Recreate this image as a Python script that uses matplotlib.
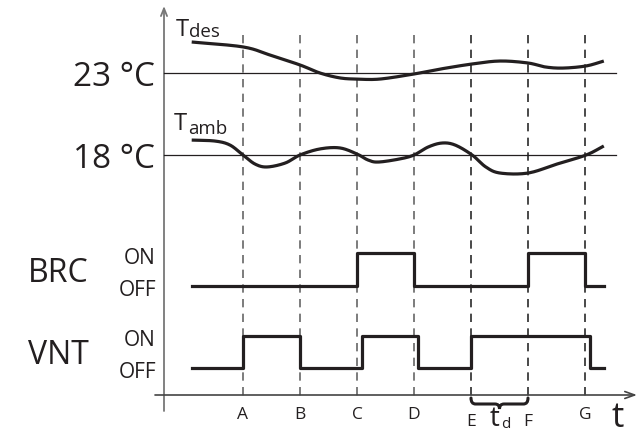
import numpy as np
import matplotlib
matplotlib.use("Agg")
import matplotlib.pyplot as plt
from matplotlib.path import Path
from matplotlib.patches import PathPatch

plt.rcParams['font.family'] = ['Open Sans', 'DejaVu Sans']

# ---------------- data ----------------
events = ['A', 'B', 'C', 'D', 'E', 'F', 'G']
event_t = [1, 2, 3, 4, 5, 6, 7]

ref_temps = [23, 18]
ref_labels = ['23 °C', '18 °C']

tdes_t = [0.10, 1.00, 1.47, 2.00, 2.35, 2.70, 3.00, 3.40, 4.00, 4.46, 5.02,
          5.51, 6.00, 6.30, 6.61, 7.02, 7.33]
tdes_v = [24.89, 24.59, 24.10, 23.49, 23.00, 22.70, 22.63, 22.63, 22.94, 23.24,
          23.55, 23.73, 23.61, 23.37, 23.30, 23.43, 23.73]

tamb_t = [0.10, 0.51, 0.77, 1.00, 1.21, 1.42, 1.74, 2.00, 2.35, 2.70, 3.00,
          3.19, 3.37, 3.75, 4.00, 4.25, 4.49, 4.72, 5.02, 5.26, 5.51, 6.00,
          6.51, 7.02, 7.33]
tamb_v = [18.91, 18.85, 18.61, 18.00, 17.45, 17.27, 17.51, 18.00, 18.37, 18.43,
          18.06, 17.70, 17.57, 17.76, 18.00, 18.49, 18.73, 18.61, 18.00, 17.27,
          16.90, 16.90, 17.45, 18.00, 18.55]

brc_t = [0.10, 3.00, 4.00, 6.00, 7.00, 7.33]
brc_s = [0, 1, 0, 1, 0, 0]
vnt_t = [0.10, 1.00, 2.00, 3.09, 4.07, 5.00, 7.09, 7.33]
vnt_s = [0, 1, 0, 1, 0, 1, 0, 0]
state_labels = ['OFF', 'ON']

# ---------------- layout helpers (pixels) ----------------
W, H = 642, 434
X0, DX = 186.0, 57.0            # pixel x of t=0, pixels per time unit


def tx(px):
    return (px - X0) / DX


XLIM = (tx(0), tx(W))
INK = '#231f20'

fig = plt.figure(figsize=(W / 100, H / 100), dpi=100)


def full_axes():
    a = fig.add_axes([0, 0, 1, 1])
    a.set_axis_off()
    a.patch.set_alpha(0)
    a.set_xlim(*XLIM)
    return a


# overlay: x in time, y in pixels (for layout items)
axL = full_axes()
axL.set_ylim(H, 0)

# temperature axes: 23 at y=73 px, 18 at y=155 px
y23, y18 = 73.0, 155.0
kT = (y18 - y23) / (23 - 18)
axT = full_axes()
axT.set_ylim(23 - (H - y23) / kT, 23 + y23 / kT)


# signal axes
def sig_axes(y_off, y_on):
    a = full_axes()
    k = y_off - y_on
    a.set_ylim((y_off - H) / k, y_off / k)
    return a


axB = sig_axes(286, 253)
axV = sig_axes(368, 336)


def smooth(x, y, n=20):
    P = np.column_stack([x, y]).astype(float)
    P = np.vstack([2 * P[0] - P[1], P, 2 * P[-1] - P[-2]])
    out = []
    for i in range(1, len(P) - 2):
        p0, p1, p2, p3 = P[i - 1], P[i], P[i + 1], P[i + 2]
        for s in np.linspace(0, 1, n, endpoint=False):
            out.append(0.5 * (2 * p1 + (-p0 + p2) * s
                              + (2 * p0 - 5 * p1 + 4 * p2 - p3) * s ** 2
                              + (-p0 + 3 * p1 - 3 * p2 + p3) * s ** 3))
    out.append(P[-2])
    out = np.array(out)
    return out[:, 0], out[:, 1]


# dashed event lines
dash_cols = ['#666666'] * 4 + ['#2a2a2a'] * 3
for t, c in zip(event_t, dash_cols):
    axL.plot([t, t], [35, 401], color=c, lw=1.2, dashes=(5, 3.8))

# reference lines
for T in ref_temps:
    axT.plot([tx(164), tx(616)], [T, T], color=INK, lw=0.9)

# temperature curves
sx, sy = smooth(tdes_t, tdes_v)
axT.plot(sx, sy, color=INK, lw=2.3, solid_capstyle='butt')
sx, sy = smooth(tamb_t, tamb_v)
axT.plot(sx, sy, color=INK, lw=2.3, solid_capstyle='butt')

# signals
axB.step(brc_t, brc_s, where='post', color=INK, lw=2.3)
axV.step(vnt_t, vnt_s, where='post', color=INK, lw=2.3)

# axes arrows
axL.annotate('', xy=(tx(164), 6), xytext=(tx(164), 411),
             arrowprops=dict(arrowstyle='->,head_length=0.55,head_width=0.22',
                             color='#777777', lw=1.3, shrinkA=0, shrinkB=0))
axL.annotate('', xy=(tx(637), 395), xytext=(tx(155), 395),
             arrowprops=dict(arrowstyle='->,head_length=0.7,head_width=0.25',
                             color='#444444', lw=1.2, shrinkA=0, shrinkB=0))

# brace between E and F
e, f = event_t[4], event_t[5]
m = (e + f) / 2
verts = [(e, 398), (e, 404), (e + 0.08, 404),
         (m - 0.08, 404), (m, 404), (m, 409),
         (m, 404), (m + 0.08, 404),
         (f - 0.08, 404), (f, 404), (f, 398)]
codes = [Path.MOVETO, Path.CURVE3, Path.CURVE3,
         Path.LINETO, Path.CURVE3, Path.CURVE3,
         Path.CURVE3, Path.CURVE3,
         Path.LINETO, Path.CURVE3, Path.CURVE3]
axL.add_patch(PathPatch(Path(verts, codes), facecolor='none', edgecolor=INK,
                        lw=2.2, capstyle='round'))

# ---------------- text ----------------
for lab, T in zip(ref_labels, ref_temps):
    ypx = y23 + (23 - T) * kT
    axL.text(tx(155), ypx + 13, lab, ha='right', va='baseline',
             fontsize=24, color=INK)

axL.text(tx(176), 36, 'T', ha='left', va='baseline', fontsize=17, color=INK)
axL.text(tx(189), 37, 'des', ha='left', va='baseline', fontsize=13.5, color=INK)
axL.text(tx(174), 130, 'T', ha='left', va='baseline', fontsize=17, color=INK)
axL.text(tx(188), 134, 'amb', ha='left', va='baseline', fontsize=13.5, color=INK)

for name, base, on_b, off_b in [('BRC', 282, 264, 296), ('VNT', 364, 346, 378)]:
    axL.text(tx(28), base, name, ha='left', va='baseline', fontsize=23, color=INK)
    axL.text(tx(156), on_b, state_labels[1], ha='right', va='baseline',
             fontsize=15, color=INK)
    axL.text(tx(156), off_b, state_labels[0], ha='right', va='baseline',
             fontsize=15, color=INK)

for lab, t in zip(events, event_t):
    base = 426 if lab in ('E', 'F') else 419
    axL.text(t, base, lab, ha='center', va='baseline', fontsize=12.5, color=INK)

axL.text(tx(612), 427, 't', ha='left', va='baseline', fontsize=25, color=INK)
axL.text(tx(490), 426, 't', ha='left', va='baseline', fontsize=20, color=INK)
axL.text(tx(501), 428, 'd', ha='left', va='baseline', fontsize=11, color=INK)

fig.savefig('out.png', dpi=100)
